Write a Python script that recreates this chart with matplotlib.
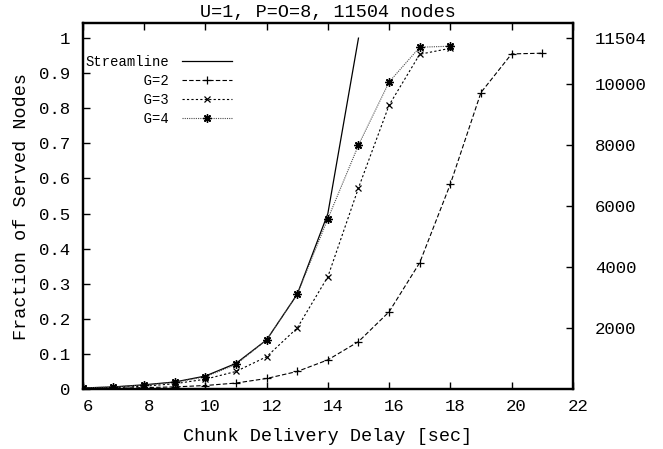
import numpy as np
import matplotlib
matplotlib.use('Agg')
import matplotlib.pyplot as plt
import matplotlib.transforms as mtransforms

plt.rcParams['font.family'] = ['Liberation Mono', 'DejaVu Sans Mono']

# data
delay_stream = [6, 7, 8, 9, 10, 11, 12, 13, 14, 15]
frac_stream = [0.003, 0.006, 0.012, 0.02, 0.037, 0.073, 0.14, 0.27, 0.50, 1.0]

delay_g2 = [6, 7, 8, 9, 10, 11, 12, 13, 14, 15, 16, 17, 18, 19, 20, 21]
frac_g2 = [0.001, 0.002, 0.004, 0.006, 0.01, 0.017, 0.03, 0.05, 0.083, 0.135,
           0.22, 0.36, 0.584, 0.845, 0.955, 0.957]

delay_g3 = [6, 7, 8, 9, 10, 11, 12, 13, 14, 15, 16, 17, 18]
frac_g3 = [0.002, 0.004, 0.008, 0.015, 0.028, 0.05, 0.092, 0.174, 0.32, 0.573,
           0.809, 0.954, 0.971]

delay_g4 = [6, 7, 8, 9, 10, 11, 12, 13, 14, 15, 16, 17, 18]
frac_g4 = [0.003, 0.006, 0.011, 0.019, 0.035, 0.07, 0.14, 0.27, 0.485, 0.695,
           0.875, 0.974, 0.977]

total_nodes = 11504
node_ticks = [2000, 4000, 6000, 8000, 10000, 11504]
frac_ticks = [0, 0.1, 0.2, 0.3, 0.4, 0.5, 0.6, 0.7, 0.8, 0.9, 1]
frac_tick_labels = ['0', '0.1', '0.2', '0.3', '0.4', '0.5', '0.6', '0.7', '0.8', '0.9', '1']
delay_ticks = [6, 8, 10, 12, 14, 16, 18, 20, 22]

fig = plt.figure(figsize=(6.63, 4.49), dpi=100)
ax = fig.add_axes([0.125, 0.1336, 0.739, 0.8152])

ax.plot(delay_stream, frac_stream, color='black', lw=0.9, label='Streamline')
ax.plot(delay_g2, frac_g2, color='black', lw=0.8, ls=(0, (4, 2)),
        marker='+', ms=6, mew=0.9, label='       G=2')
ax.plot(delay_g3, frac_g3, color='black', lw=0.8, ls=(0, (2, 2)),
        marker='x', ms=5, mew=0.9, label='       G=3')
ax.plot(delay_g4, frac_g4, color='0.3', lw=0.8, ls=(0, (1, 1)),
        marker=(8, 2, 0), ms=6, mew=1.0, mec='black', label='       G=4')

ymax = 12000 / total_nodes
ax.set_xlim(6, 22)
ax.set_ylim(0, ymax)
ax.set_xticks(delay_ticks)
ax.set_yticks(frac_ticks)
ax.set_yticklabels(frac_tick_labels)

ax.tick_params(axis='both', direction='in', length=5, width=1, labelsize=12.5)
ax.tick_params(axis='x', top=True, pad=7)
ax.tick_params(axis='y', pad=9)
for sp in ax.spines.values():
    sp.set_linewidth(1.6)

offset = mtransforms.ScaledTranslation(5 / 100, 0, fig.dpi_scale_trans)
for lab in ax.get_xticklabels():
    lab.set_transform(lab.get_transform() + offset)

ax2 = ax.twinx()
ax2.set_ylim(0, 12000)
ax2.set_yticks(node_ticks)
ax2.tick_params(axis='y', direction='in', length=5, width=1, labelsize=12.5, pad=16)
for sp in ax2.spines.values():
    sp.set_linewidth(1.6)

ax.set_xlabel('Chunk Delivery Delay [sec]', fontsize=13.3, labelpad=10)
ax.set_ylabel('Fraction of Served Nodes', fontsize=13.3, labelpad=7)
ax.set_title('U=1, P=O=8, 11504 nodes', fontsize=13.3, pad=4)

leg = ax.legend(loc='upper left', bbox_to_anchor=(-0.012, 0.935), markerfirst=False,
                frameon=False, fontsize=10, handlelength=3.6, handletextpad=0.9,
                labelspacing=0.36, borderaxespad=0.2)

fig.savefig('out.png', dpi=100)
